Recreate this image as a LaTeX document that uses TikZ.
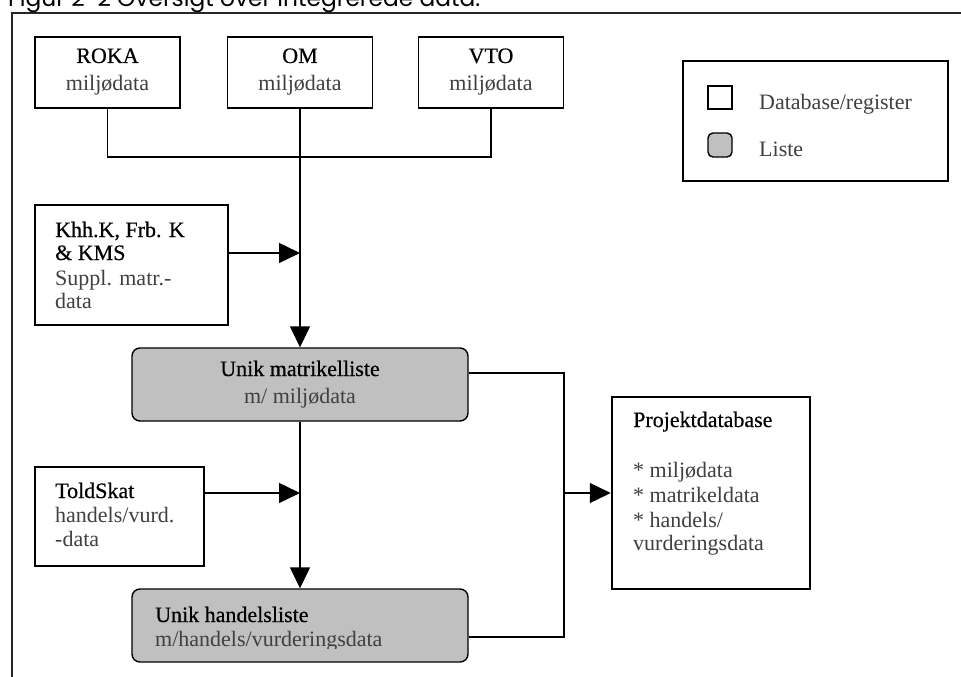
\documentclass[tikz,border=0pt]{standalone}
\usepackage{fontspec}
\setmainfont{Liberation Serif}
\newfontfamily\headfont[FakeBold=0.5]{Liberation Serif}
\newfontfamily\titlefont{Poppins}
\usetikzlibrary{arrows.meta}
\definecolor{listgrey}{HTML}{C0C0C0}
\definecolor{subgrey}{HTML}{404040}
\begin{document}
\begin{tikzpicture}[x=1pt,y=-1pt,
  dbbox/.style={draw=black,line width=1.4pt,fill=white,inner sep=0pt},
  listbox/.style={draw=black,line width=1.4pt,fill=listgrey,rounded corners=8pt,inner sep=0pt},
  conn/.style={line width=1.4pt},
  arr/.style={conn,-{Triangle[length=21pt,width=20pt]}},
  head/.style={font=\headfont\fontsize{22}{24}\selectfont,inner sep=0pt,text=black},
  sub/.style={font=\fontsize{22}{24}\selectfont,inner sep=0pt,text=subgrey},
  frame/.style={line width=1.8pt,draw=black!85}]
\useasboundingbox (0,0) rectangle (961,677);

% title and frame
\node[anchor=base west,inner sep=0pt] (title) at (8,7)
  {\resizebox{472pt}{!}{\titlefont\fontsize{20}{20}\selectfont Figur 2-2 Oversigt over integrerede data.}};
\coordinate (fbl) at (12,677);
\coordinate (ftl) at (12,13);
\coordinate (ftr) at (961,13);
\draw[frame] (fbl) -- (ftl) -- (ftr);

% source boxes
\node[dbbox,minimum width=145pt,minimum height=71pt] (roka) at (107.5,72.5) {};
\node[head,anchor=base] (roka-h) at (107.5,63) {ROKA};
\node[sub,anchor=base] (roka-s) at (107.5,90) {miljødata};

\node[dbbox,minimum width=145pt,minimum height=71pt] (om) at (300,72.5) {};
\node[head,anchor=base] (om-h) at (300,63) {OM};
\node[sub,anchor=base] (om-s) at (300,90) {miljødata};

\node[dbbox,minimum width=145pt,minimum height=71pt] (vto) at (491,72.5) {};
\node[head,anchor=base] (vto-h) at (491,63) {VTO};
\node[sub,anchor=base] (vto-s) at (491,90) {miljødata};

% legend
\node[dbbox,minimum width=265pt,minimum height=120pt] (legend) at (815.5,121) {};
\node[dbbox,minimum width=24pt,minimum height=23pt] (legdb) at (720,97.5) {};
\node[listbox,rounded corners=5pt,minimum width=24pt,minimum height=24pt] (leglist) at (720,145) {};
\node[sub,anchor=base west] (legdb-t) at (759,109) {Database/register};
\node[sub,anchor=base west] (leglist-t) at (759,156) {Liste};

% Khh box
\node[dbbox,minimum width=193pt,minimum height=120pt] (khh) at (131.5,265) {};
\node[head,anchor=base west] (khh-h1) at (55,237) {Khh.K, Frb. K};
\node[head,anchor=base west] (khh-h2) at (55,260) {\& KMS};
\node[sub,anchor=base west] (khh-s1) at (55,285) {Suppl. matr.-};
\node[sub,anchor=base west] (khh-s2) at (55,308) {data};

% Unik matrikelliste
\node[listbox,minimum width=336pt,minimum height=73pt] (umat) at (300,384.5) {};
\node[head,anchor=base] (umat-h) at (300,376) {Unik matrikelliste};
\node[sub,anchor=base] (umat-s) at (300,403) {m/ miljødata};

% ToldSkat
\node[dbbox,minimum width=169pt,minimum height=99pt] (told) at (119.5,516.5) {};
\node[head,anchor=base west] (told-h) at (55,498) {ToldSkat};
\node[sub,anchor=base west] (told-s1) at (55,522) {handels/vurd.};
\node[sub,anchor=base west] (told-s2) at (55,546) {-data};

% Unik handelsliste
\node[listbox,minimum width=336pt,minimum height=73pt] (uhan) at (300,625.5) {};
\node[head,anchor=base west] (uhan-h) at (155,622) {Unik handelsliste};
\begin{scope}
  \clip (140,600) rectangle (470,648);
  \node[sub,anchor=base west] (uhan-s) at (155,646) {m/handels/vurderingsdata};
\end{scope}

% Projektdatabase
\node[dbbox,line width=2.5pt,minimum width=198pt,minimum height=192pt] (proj) at (711,493) {};
\node[head,anchor=base west] (proj-h) at (633,427) {Projektdatabase};
\node[sub,anchor=base west] (proj-s1) at (633,477) {* miljødata};
\node[sub,anchor=base west] (proj-s2) at (633,502) {* matrikeldata};
\node[sub,anchor=base west] (proj-s3) at (633,527) {* handels/};
\node[sub,anchor=base west] (proj-s4) at (633,550) {vurderingsdata};

% connectors
\coordinate (bus1) at (300,157);
\draw[conn] (roka.south) |- (bus1) -| (vto.south);
\draw[arr] (om.south) -- (umat.north);
\coordinate (khhout) at ([yshift=12pt]khh.east);
\draw[arr] (khhout) -- (khhout -| om.south);
\coordinate (toldout) at ([yshift=23.5pt]told.east);
\draw[arr] (toldout) -- (toldout -| umat.south);
\draw[arr] (umat.south) -- (uhan.north);
\coordinate (bus2) at (564,493);
\coordinate (umatout) at ([yshift=11.5pt]umat.east);
\coordinate (uhanout) at ([yshift=-11.5pt]uhan.east);
\draw[conn] (umatout) -| (bus2) |- (uhanout);
\draw[arr] (bus2) -- (proj.west);
\end{tikzpicture}
\end{document}
